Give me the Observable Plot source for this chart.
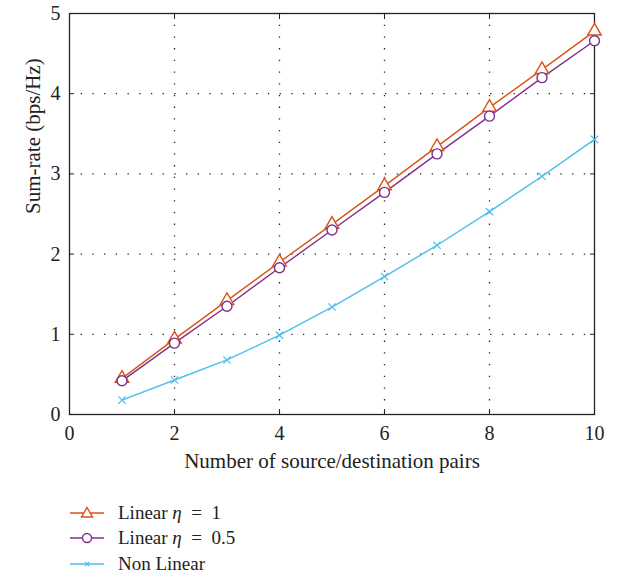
<!DOCTYPE html>
<html>
<head>
<meta charset="utf-8">
<script src="https://cdn.jsdelivr.net/npm/d3@7"></script>
<script src="https://cdn.jsdelivr.net/npm/@observablehq/plot@0.6"></script>
<style>
  html, body { margin: 0; padding: 0; background: #fff; }
  #wrap { width: 621px; font-family: "Liberation Serif", "Times New Roman", serif; }
  #chart svg, #chart svg text { font-family: "Liberation Serif", "Times New Roman", serif !important; }
  #legend { margin-left: 70px; margin-top: 20px; font-size: 19px; color: #222; font-family: "Liberation Serif", "Times New Roman", serif; }
  .row { display: flex; align-items: center; height: 25.5px; }
  .row svg { margin-right: 14px; }
</style>
</head>
<body>
<div id="wrap"><div id="chart"></div><div id="legend"></div></div>
<script>
const pairs = [1, 2, 3, 4, 5, 6, 7, 8, 9, 10];
const linearEta1 = [0.45, 0.94, 1.42, 1.90, 2.37, 2.85, 3.34, 3.83, 4.30, 4.78];
const linearEta05 = [0.42, 0.89, 1.35, 1.83, 2.30, 2.77, 3.25, 3.72, 4.20, 4.66];
const nonLinear = [0.18, 0.43, 0.68, 0.99, 1.34, 1.72, 2.11, 2.53, 2.97, 3.43];
const seriesNames = ["Linear η = 1", "Linear η = 0.5", "Non Linear"];
const seriesColors = ["#d95319", "#7e2f8e", "#4dbeee"];
const seriesSymbols = ["triangle", "circle", "times"];
const xTicks = [0, 2, 4, 6, 8, 10];
const yTicks = [0, 1, 2, 3, 4, 5];
const xLabel = "Number of source/destination pairs";
const yLabel = "Sum-rate (bps/Hz)";

const allSeries = [linearEta1, linearEta05, nonLinear];
const data = allSeries.flatMap((vals, i) =>
  vals.map((v, j) => ({series: seriesNames[i], x: pairs[j], y: v})));
const openData = data.filter(d => d.series !== seriesNames[2]);
const crossData = data.filter(d => d.series === seriesNames[2]);
const noLabel = () => "";

const plot = Plot.plot({
  width: 621,
  height: 480,
  marginLeft: 69,
  marginRight: 27,
  marginTop: 13,
  marginBottom: 66,
  style: {fontFamily: "'Liberation Serif', 'Times New Roman', serif", fontSize: "20px", color: "#222", background: "#fff"},
  x: {domain: [0, 10], ticks: xTicks},
  y: {domain: [0, 5], ticks: yTicks},
  color: {domain: seriesNames, range: seriesColors},
  symbol: {domain: seriesNames, range: seriesSymbols},
  marks: [
    Plot.ruleX(xTicks.slice(1, -1), {stroke: "#222", strokeWidth: 1.3, strokeDasharray: "1.3,10.4"}),
    Plot.ruleY(yTicks.slice(1, -1), {stroke: "#222", strokeWidth: 1.3, strokeDasharray: "1.3,10.4"}),
    Plot.frame({stroke: "#222", strokeWidth: 1.3}),
    Plot.axisX({anchor: "bottom", ticks: xTicks, tickSize: -5, tickPadding: 16, label: null, fontSize: 20, tickFormat: d3.format("d")}),
    Plot.axisX({anchor: "top", ticks: xTicks, tickSize: -5, tickFormat: noLabel, label: null}),
    Plot.axisY({anchor: "left", ticks: yTicks, tickSize: -5, tickPadding: 14, label: null, fontSize: 20, tickFormat: d3.format("d")}),
    Plot.axisY({anchor: "right", ticks: yTicks, tickSize: -5, tickFormat: noLabel, label: null}),
    Plot.line(data, {x: "x", y: "y", z: "series", stroke: "series", strokeWidth: 1.4}),
    Plot.dot(openData, {x: "x", y: "y", symbol: "series", stroke: "series", r: 5, strokeWidth: 1.4, fill: "white"}),
    Plot.dot(crossData, {x: "x", y: "y", symbol: "series", stroke: "series", r: 3.4, strokeWidth: 1.2}),
    Plot.text([xLabel], {frameAnchor: "bottom", dy: 53, text: d => d, fontSize: 21}),
    Plot.text([yLabel], {frameAnchor: "left", dx: -36, rotate: -90, text: d => d, fontSize: 21})
  ]
});
document.getElementById("chart").appendChild(plot);

const legend = document.getElementById("legend");
seriesNames.forEach((name, i) => {
  const row = document.createElement("div");
  row.className = "row";
  const sym = seriesSymbols[i];
  const c = seriesColors[i];
  let marker = "";
  if (sym === "triangle") marker = `<path d="M17,3.5 L22.5,13 L11.5,13 Z" fill="white" stroke="${c}" stroke-width="1.4"/>`;
  else if (sym === "circle") marker = `<circle cx="17" cy="9" r="4.5" fill="white" stroke="${c}" stroke-width="1.4"/>`;
  else marker = `<path d="M14.8,6.8 L19.2,11.2 M19.2,6.8 L14.8,11.2" stroke="${c}" stroke-width="1.2"/>`;
  const parts = name.split("η");
  const label = parts.length > 1 ? `${parts[0]}<i>η</i>${parts[1].replace(" = ", "&nbsp;&nbsp;=&nbsp;&nbsp;")}` : name;
  row.innerHTML = `<svg width="34" height="18"><line x1="0" y1="9" x2="34" y2="9" stroke="${c}" stroke-width="1.4"/>${marker}</svg><span>${label}</span>`;
  legend.appendChild(row);
});
</script>
</body>
</html>
